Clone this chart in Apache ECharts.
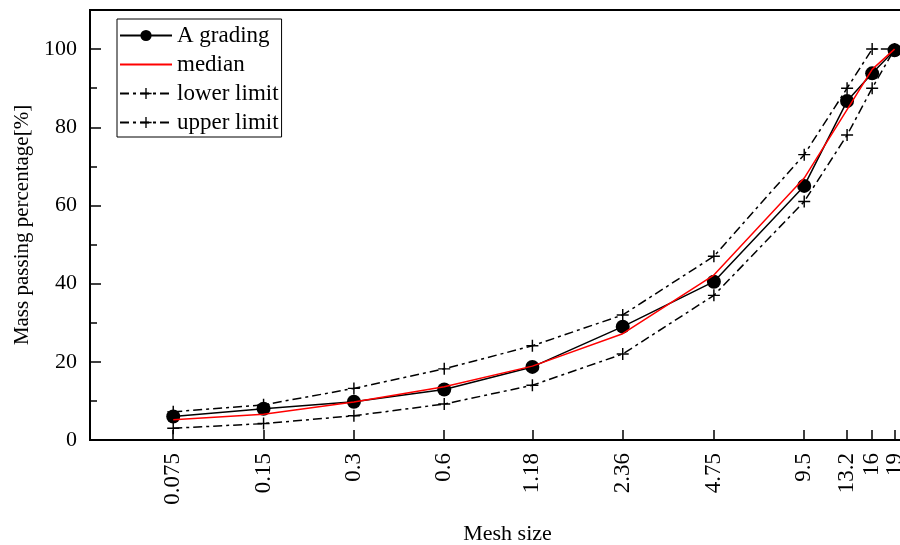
<!DOCTYPE html>
<html>
<head>
<meta charset="utf-8">
<script src="https://cdn.jsdelivr.net/npm/echarts@6/dist/echarts.min.js"></script>
<style>
  html, body { margin: 0; padding: 0; background: #fff; }
  #chart { width: 900px; height: 545px; }
</style>
</head>
<body>
<div id="chart"></div>
<script>
// Sieve sizes (mm) and passing percentages
const meshSizes = [0.075, 0.15, 0.3, 0.6, 1.18, 2.36, 4.75, 9.5, 13.2, 16, 19];
const aGrading = [6, 8, 9.8, 12.9, 18.7, 29, 40.5, 65, 86.7, 93.8, 99.7];
const median = [5.2, 6.6, 9.7, 13.6, 18.9, 27.2, 42.2, 67, 84.5, 94.8, 100];
const lowerLimit = [3, 4.2, 6.2, 9.2, 14, 22, 37, 61, 78, 90, 100];
const upperLimit = [7.2, 9, 13.2, 18.2, 24.1, 32, 47, 73, 90, 100, 100];
const yMajor = [0, 20, 40, 60, 80, 100];
const yMinor = [10, 30, 50, 70, 90];

const FONT = '"Liberation Serif", "Times New Roman", serif';
const PLUS = 'path://M4.4,0h1.2v4.4h4.4v1.2h-4.4v4.4h-1.2v-4.4h-4.4v-1.2h4.4z';
const DASHDOT = [9, 4, 3, 4];

const pairs = arr => meshSizes.map((m, i) => [m, arr[i]]);

// labels of 13.2 / 16 / 19 sit very close; split them over two
// stacked axes so ECharts does not drop any as overlapping
const labelsA = meshSizes.filter((m, i) => i % 2 === 0);
const labelsB = meshSizes.filter((m, i) => i % 2 === 1);

const chart = echarts.init(document.getElementById('chart'), null, { renderer: 'canvas' });

const meshLabel = v => {
  let best = meshSizes[0];
  meshSizes.forEach(m => {
    if (Math.abs(Math.log(m) - Math.log(v)) < Math.abs(Math.log(best) - Math.log(v))) best = m;
  });
  return String(best);
};

const xBase = {
  type: 'log', logBase: 2,
  min: 0.0396, max: 24,
  splitLine: { show: false },
  minorTick: { show: false }
};
const xLabelBase = {
  rotate: 90, margin: 13, hideOverlap: false, interval: 0,
  showMinLabel: true, showMaxLabel: true,
  fontFamily: FONT, fontSize: 23, color: '#000',
  formatter: meshLabel
};

const yBase = {
  type: 'value', min: 0, max: 110,
  splitLine: { show: false }
};

chart.setOption({
  backgroundColor: '#fff',
  animation: false,
  textStyle: { fontFamily: FONT, color: '#000' },
  // plot area runs past the right edge of the picture, as in the source figure
  grid: {
    left: 90, top: 10, width: 835, height: 430,
    outerBoundsMode: 'none',
    show: true, borderColor: '#000', borderWidth: 2, backgroundColor: 'transparent'
  },
  legend: {
    orient: 'vertical',
    left: 117, top: 19,
    padding: [5, 3, 3, 2],
    borderColor: '#000', borderWidth: 1,
    itemWidth: 52, itemHeight: 14, itemGap: 6,
    textStyle: { fontFamily: FONT, fontSize: 23, color: '#000' },
    data: [
      'A grading',
      { name: 'median', itemStyle: { color: 'transparent', borderWidth: 0 } },
      'lower limit',
      'upper limit'
    ]
  },
  xAxis: [
    Object.assign({}, xBase, {
      name: 'Mesh size', nameLocation: 'middle', nameGap: 83,
      nameTextStyle: { fontFamily: FONT, fontSize: 22, color: '#000' },
      axisLine: { onZero: false, lineStyle: { color: '#000', width: 2 } },
      axisTick: { inside: true, length: 10, lineStyle: { color: '#000', width: 1.5 }, customValues: meshSizes },
      axisLabel: Object.assign({ customValues: labelsA }, xLabelBase)
    }),
    Object.assign({}, xBase, {
      position: 'bottom', offset: 0,
      axisLine: { show: false, onZero: false },
      axisTick: { show: false },
      axisLabel: Object.assign({ customValues: labelsB }, xLabelBase)
    })
  ],
  yAxis: [
    Object.assign({}, yBase, {
      name: 'Mass passing percentage[%]', nameLocation: 'middle', nameGap: 56,
      nameTextStyle: { fontFamily: FONT, fontSize: 21, color: '#000' },
      axisLine: { show: true, lineStyle: { color: '#000', width: 2 } },
      axisTick: { inside: true, length: 11, lineStyle: { color: '#000', width: 1.5 }, customValues: yMajor },
      axisLabel: { customValues: yMajor, margin: 13, fontFamily: FONT, fontSize: 22, color: '#000' }
    }),
    Object.assign({}, yBase, {
      position: 'left', offset: 0,
      axisLine: { show: false },
      axisTick: { inside: true, length: 7, lineStyle: { color: '#000', width: 1.5 }, customValues: yMinor },
      axisLabel: { show: false }
    })
  ],
  series: [
    {
      name: 'A grading', type: 'line', data: pairs(aGrading),
      symbol: 'circle', symbolSize: 14,
      itemStyle: { color: '#000' },
      lineStyle: { color: '#000', width: 1.5 },
      z: 3
    },
    {
      name: 'median', type: 'line', data: pairs(median),
      symbol: 'none',
      itemStyle: { color: '#ff0000' },
      lineStyle: { color: '#ff0000', width: 1.5 },
      z: 4
    },
    {
      name: 'lower limit', type: 'line', data: pairs(lowerLimit),
      symbol: PLUS, symbolSize: 12,
      itemStyle: { color: '#000' },
      lineStyle: { color: '#000', width: 1.5, type: DASHDOT },
      z: 2
    },
    {
      name: 'upper limit', type: 'line', data: pairs(upperLimit),
      symbol: PLUS, symbolSize: 12,
      itemStyle: { color: '#000' },
      lineStyle: { color: '#000', width: 1.5, type: DASHDOT },
      z: 2
    }
  ]
});
</script>
</body>
</html>
